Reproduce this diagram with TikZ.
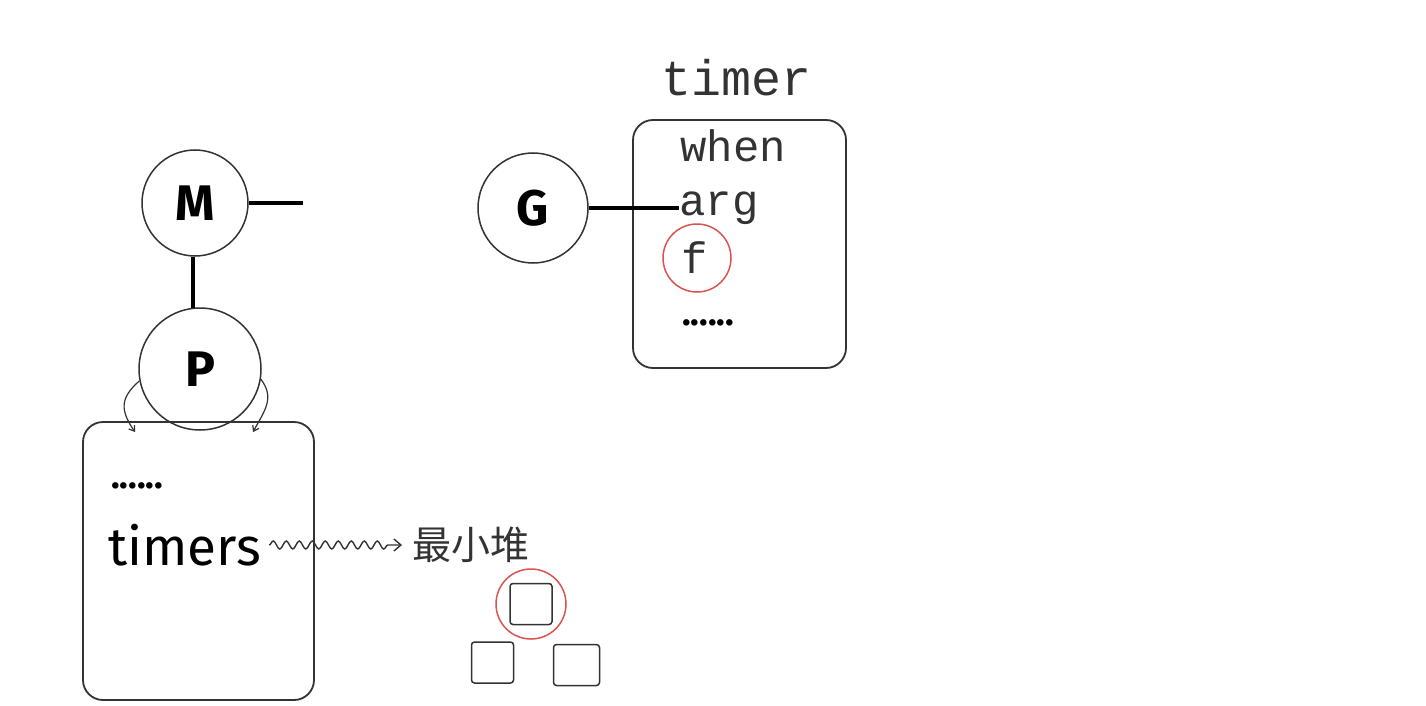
\documentclass[tikz,border=0pt]{standalone}
\usepackage{fontspec}
\setmainfont{Fira Sans}
\newfontfamily\monof{Liberation Mono}
\newfontfamily\cjk{Noto Sans CJK SC}
\usetikzlibrary{decorations.pathmorphing,arrows.meta}
\definecolor{ink}{HTML}{333333}
\definecolor{redc}{HTML}{D9534F}
\tikzset{
  x=1pt,y=-1pt,
  ball/.style={circle,draw=ink,line width=1.5pt,inner sep=0pt},
  card/.style={draw=ink,line width=1.8pt,rounded corners=20pt},
  thick line/.style={line width=4pt,black},
  mono/.style={font=\monof\fontsize{44}{44}\selectfont,text=ink,inner sep=0pt,anchor=west},
  hand/.style={font=\fontsize{50}{50}\selectfont\bfseries,inner sep=0pt},
  heapbox/.style={draw=ink,line width=1.5pt,rounded corners=3pt,minimum width=42pt,minimum height=41pt,inner sep=0pt},
  ring/.style={circle,draw=redc,line width=1.5pt,inner sep=0pt},
  dots/.style={font=\fontsize{36}{36}\selectfont\bfseries,inner sep=0pt},
}
\begin{document}
\begin{tikzpicture}
\useasboundingbox[fill=white] (0,0) rectangle (1426,706);
% left part
\node[ball,minimum size=106pt] (M) at (195,203) {};
\node[hand] at (M) {M};
\node[ball,minimum size=122pt] (P) at (200,369) {};
\node[hand] at (P) {P};
\coordinate (Mr) at (303,203);
\draw[thick line] (M.east) -- (Mr);
\draw[thick line] (193,257) -- (193,308);
\node[card,minimum width=231pt,minimum height=278pt] (box) at (198.5,561) {};
\node[dots] (ldots) at (137,486) {......};
\node[font=\fontsize{53}{53}\selectfont,inner sep=0pt,anchor=west] (timers) at (108,545) {timers};
\node[font=\cjk\fontsize{39}{39}\selectfont,text=ink,anchor=west,inner sep=0pt] (heap) at (412,545) {最小堆};
\draw[ink,line width=1.4pt,decorate,decoration={snake,amplitude=4pt,segment length=13pt,post length=9pt},-{Straight Barb[length=7pt,width=12pt]}] (timers.east)++(8,0) -- ([xshift=-10pt]heap.west);
% P handles
\coordinate (hl) at (135,432);
\coordinate (hr) at (253,432);
\draw[ink,line width=1.2pt,-{Straight Barb[length=5pt,width=7pt]}] (P.west)++(1,12) .. controls (120,398) and (120,410) .. (hl);
\draw[ink,line width=1.2pt,-{Straight Barb[length=5pt,width=7pt]}] (P.east)++(-1,10) .. controls (275,398) and (265,410) .. (hr);
% heap squares
\node[heapbox] (h0) at (531,604) {};
\node[ring,minimum size=70pt] (r0) at (h0) {};
\node[heapbox] (h1) at (492.5,662.5) {};
\node[heapbox,minimum width=46pt] (h2) at (576.5,665) {};
% right part
\node[ball,minimum size=110pt] (G) at (533,208) {};
\node[hand] at (G) {G};
\node[card,minimum width=213pt,minimum height=248pt] (tbox) at (739.5,244) {};
\node[font=\monof\fontsize{50}{50}\selectfont,text=ink,inner sep=0pt] (tt) at (737,78) {timer};
\node[mono] (when) at (680,146) {when};
\node[mono] (arg) at (679,208) {arg};
\node[mono] (f) at (681,258) {f};
\node[ring,minimum size=68pt] (fr) at (697,258) {};
\node[dots] (rdots) at (708,323) {......};
\draw[thick line] (G.east) -- (G.east -| arg.west);
\end{tikzpicture}
\end{document}
